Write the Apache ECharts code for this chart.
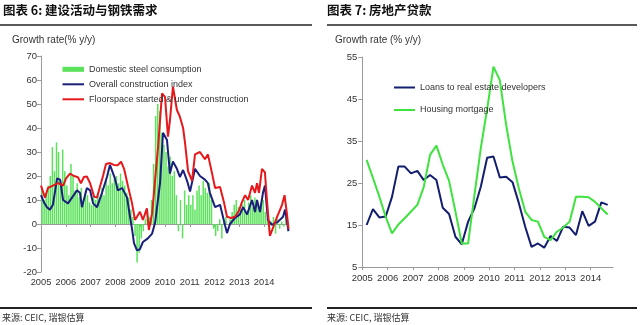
<!DOCTYPE html>
<html><head><meta charset="utf-8">
<script src="https://cdn.jsdelivr.net/npm/echarts@6/dist/echarts.min.js"></script>
<style>html,body{margin:0;padding:0;background:#fff}#c{width:640px;height:325px}</style>
</head><body><div id="c"></div>
<script>
// ---------- Data: chart 6 (left) ----------
const yearTicks = [2005, 2006, 2007, 2008, 2009, 2010, 2011, 2012, 2013, 2014];
const leftYTicks = [-20, -10, 0, 10, 20, 30, 40, 50, 60, 70];
const rightYTicks = [5, 15, 25, 35, 45, 55];

const steelStartYear = 2005;
const steelMonthly = [
  14, 10, 13, 16, 20, 32, 22, 34, 30, 18, 31, 22,
  16, 12, 25, 20, 14, 17, 11, 15, 10, 14, 12, 9,
  8, 12, 10, 13, 11, 15, 12, 19, 16, 21, 17, 19,
  20, 17, 21, 18, 16, 13, 11, 6, 3, -5, -16, -12,
  -6, -3, 2, 5, 3, 10, 25, 45, 50, 47, 38, 33,
  30, 24, 28, 20, 22, 12, -3, 10, -6, 14, 8, 12,
  8, 12, 6, 14, 16, 12, 18, 15, 13, 17, 10, -2,
  -5, -3, 2, -6, 1, 3, 0, 2, 5, 8, 10, 7,
  6, 8, 10, 5, 9, 12, 7, 11, 8, 6, 9, 10,
  5, 2, -3, 1, 3, -4, 2, -2, 1, -1, 3, -3
];

const constructionYears = [2005.00, 2005.12, 2005.24, 2005.36, 2005.48, 2005.65, 2005.77, 2005.89,
  2006.09, 2006.25, 2006.45, 2006.57, 2006.65, 2006.85, 2006.98,
  2007.10, 2007.26, 2007.46, 2007.66, 2007.78, 2007.98,
  2008.10, 2008.27, 2008.47, 2008.59, 2008.67, 2008.75, 2008.87, 2008.99,
  2009.11, 2009.31, 2009.48, 2009.60, 2009.68, 2009.80, 2009.92,
  2010.08, 2010.20, 2010.32, 2010.48, 2010.60, 2010.73, 2010.89,
  2011.01, 2011.21, 2011.41, 2011.61, 2011.73, 2011.81,
  2012.02, 2012.22, 2012.42, 2012.50, 2012.62, 2012.82,
  2013.02, 2013.15, 2013.31, 2013.51, 2013.63, 2013.71, 2013.83, 2013.95,
  2014.03, 2014.15, 2014.31, 2014.56, 2014.76, 2014.84, 2014.98];
const constructionValues = [12, 9, 7, 6, 8, 19, 18.5, 10,
  8.6, 11, 14, 13, 7, 15, 14,
  8.6, 7, 13, 19.6, 24.6, 19,
  14, 15, 11, 3, -2, -8, -11, -10.5,
  -7.5, -6, -4, 0.5, 7, 17, 38,
  35, 21, 26, 23, 19.6, 22.5, 18,
  13.5, 23, 20, 18.5, 17, 13,
  7, 8, -0.5, -3.8, 0, 2.5,
  4, 7, 4, 10, 5, 10, 5, 13,
  16, 1.7, -0.4, 1, 3, 6, -3];

const floorspaceYears = [2005.00, 2005.16, 2005.28, 2005.48, 2005.69, 2005.89,
  2006.01, 2006.17, 2006.33, 2006.49, 2006.61, 2006.73, 2006.85, 2006.98,
  2007.14, 2007.26, 2007.38, 2007.50, 2007.62, 2007.78, 2007.94,
  2008.10, 2008.23, 2008.35, 2008.51, 2008.67, 2008.79, 2008.87, 2008.99,
  2009.11, 2009.27, 2009.35, 2009.48, 2009.60, 2009.72, 2009.88,
  2010.00, 2010.12, 2010.20, 2010.32, 2010.48, 2010.60, 2010.73, 2010.81, 2010.93,
  2011.09, 2011.21, 2011.41, 2011.61, 2011.73, 2011.90,
  2012.02, 2012.22, 2012.38, 2012.50, 2012.66, 2012.82, 2012.98,
  2013.10, 2013.23, 2013.35, 2013.51, 2013.63, 2013.71, 2013.79, 2013.91,
  2014.03, 2014.11, 2014.23, 2014.35, 2014.52, 2014.72, 2014.82, 2014.92, 2014.98];
const floorspaceValues = [16, 11, 15, 16, 17, 16,
  19, 21, 20, 19.5, 17, 19.6, 19.8, 17,
  11.4, 11, 15.6, 20, 25, 25.4, 24.6,
  24.5, 26, 23, 15.6, 8.7, 1.7, 3, 5.1,
  1.7, 6.5, -2.5, 4.4, 18.3, 32, 54.4,
  53, 36.4, 43.3, 57.2, 47.5, 44.7, 40, 33.6, 22,
  18, 29, 30, 27, 29, 21,
  15, 15.4, 9, 3, 2.5, 3, 5.5,
  9, 12, 10, 16, 13, 17, 13, 23,
  21.5, 10, -5, -1.7, 3, 8, 12, 4, -2];

// ---------- Data: chart 7 (right) ----------
const loanYears = [2005.17, 2005.42, 2005.67, 2005.92, 2006.17, 2006.42, 2006.67, 2006.92,
  2007.17, 2007.42, 2007.67, 2007.92, 2008.17, 2008.42, 2008.67, 2008.92,
  2009.17, 2009.42, 2009.67, 2009.92, 2010.17, 2010.42, 2010.67, 2010.92,
  2011.17, 2011.42, 2011.67, 2011.92, 2012.17, 2012.42, 2012.67, 2012.92,
  2013.17, 2013.42, 2013.67, 2013.92, 2014.17, 2014.42, 2014.67];
const developerLoans = [15.0, 18.8, 16.8, 17.0, 21.7, 28.9, 28.9, 27.3,
  27.9, 25.7, 26.9, 25.7, 19.1, 17.6, 12.2, 10.4,
  15.8, 19.0, 24.1, 31.0, 31.3, 26.3, 26.5, 25.2,
  20.2, 14.6, 9.8, 10.6, 9.6, 12.4, 11.2, 14.6,
  14.4, 12.6, 18.3, 14.8, 15.8, 20.4, 19.8];
const housingMortgage = [30.5, 26.2, 21.8, 17.0, 13.0, 15.1, 16.6, 18.2,
  19.8, 24.0, 31.7, 33.9, 29.4, 25.5, 18.2, 10.6,
  10.6, 22.1, 33.3, 42.6, 52.7, 49.5, 38.8, 30.1,
  23.7, 18.2, 16.2, 15.8, 12.2, 11.4, 13.4, 14.4,
  15.8, 21.7, 21.7, 21.6, 20.5, 19.0, 17.5];

// ---------- build ----------
const zip = (xs, ys) => xs.map((x, i) => [x, ys[i]]);
const steelData = steelMonthly.map((v, i) => [steelStartYear + (i + 0.5) / 12, v]);

const axisGray = '#9a9a9a';
const labelFont = { fontFamily: 'Liberation Sans, Arial, sans-serif', color: '#333' };
const yearFmt = v => String(Math.round(v));

const chart = echarts.init(document.getElementById('c'), null, { renderer: 'canvas' });
chart.setOption({
  animation: false,
  backgroundColor: '#fff',
  title: [
    { text: '图表 6: 建设活动与钢铁需求', left: 3, top: 4, padding: 0,
      textStyle: { fontFamily: 'Noto Sans CJK SC', fontSize: 12.5, fontWeight: 'bold', color: '#111' } },
    { text: '图表 7: 房地产贷款', left: 327, top: 4, padding: 0,
      textStyle: { fontFamily: 'Noto Sans CJK SC', fontSize: 12.5, fontWeight: 'bold', color: '#111' } },
    { text: 'Growth rate(% y/y)', left: 12, top: 35, padding: 0,
      textStyle: Object.assign({ fontSize: 10, fontWeight: 'normal' }, labelFont) },
    { text: 'Growth rate (% y/y)', left: 335, top: 35, padding: 0,
      textStyle: Object.assign({ fontSize: 10, fontWeight: 'normal' }, labelFont) },
    { text: '来源: CEIC, 瑞银估算', left: 2, top: 313, padding: 0,
      textStyle: { fontFamily: 'Noto Sans CJK SC', fontSize: 9, fontWeight: 'normal', color: '#333' } },
    { text: '来源: CEIC, 瑞银估算', left: 327, top: 313, padding: 0,
      textStyle: { fontFamily: 'Noto Sans CJK SC', fontSize: 9, fontWeight: 'normal', color: '#333' } }
  ],
  graphic: [
    { type: 'line', shape: { x1: 0, y1: 25, x2: 312, y2: 25 }, style: { stroke: '#222', lineWidth: 1.5 } },
    { type: 'line', shape: { x1: 327, y1: 25, x2: 637, y2: 25 }, style: { stroke: '#222', lineWidth: 1.5 } },
    { type: 'line', shape: { x1: 0, y1: 308, x2: 312, y2: 308 }, style: { stroke: '#222', lineWidth: 2 } },
    { type: 'line', shape: { x1: 327, y1: 308, x2: 637, y2: 308 }, style: { stroke: '#222', lineWidth: 2 } }
  ],
  legend: [
    { orient: 'vertical', left: 61.5, top: 63.3, padding: 0, itemGap: 3, itemWidth: 21.5, itemHeight: 5,
      selectedMode: false,
      textStyle: Object.assign({ fontSize: 9, lineHeight: 12 }, labelFont),
      data: [
        { name: 'Domestic steel consumption', icon: 'rect' },
        { name: 'Overall construction index', itemStyle: { opacity: 0 } },
        { name: 'Floorspace started & under construction', itemStyle: { opacity: 0 } }
      ] },
    { orient: 'vertical', left: 393, top: 81.5, padding: 0, itemGap: 10.5, itemWidth: 21, itemHeight: 5,
      selectedMode: false,
      textStyle: Object.assign({ fontSize: 9, lineHeight: 12 }, labelFont),
      data: [
        { name: 'Loans to real estate developers', itemStyle: { opacity: 0 } },
        { name: 'Housing mortgage', itemStyle: { opacity: 0 } }
      ] }
  ],
  grid: [
    { left: 41, top: 56, width: 247.5, height: 216 },
    { left: 362.3, top: 57, width: 250.7, height: 210 }
  ],
  xAxis: [
    { gridIndex: 0, type: 'value', min: 2005, max: 2014.98,
      axisLine: { onZero: true, lineStyle: { color: axisGray, width: 1 } },
      axisTick: { show: true, length: 3, customValues: yearTicks, lineStyle: { color: axisGray } },
      axisLabel: { show: false }, splitLine: { show: false } },
    { gridIndex: 0, type: 'value', min: 2005, max: 2014.98, position: 'bottom',
      axisLine: { show: false, onZero: false }, axisTick: { show: false },
      axisLabel: Object.assign({ fontSize: 9.3, margin: 6, customValues: yearTicks, formatter: yearFmt }, labelFont),
      splitLine: { show: false } },
    { gridIndex: 1, type: 'value', min: 2005, max: 2014.88,
      axisLine: { onZero: false, lineStyle: { color: axisGray, width: 1 } },
      axisTick: { show: true, length: 3, customValues: yearTicks, lineStyle: { color: axisGray } },
      axisLabel: Object.assign({ fontSize: 9.5, margin: 6, customValues: yearTicks, formatter: yearFmt }, labelFont),
      splitLine: { show: false } }
  ],
  yAxis: [
    { gridIndex: 0, type: 'value', min: -20, max: 70,
      axisLine: { show: true, lineStyle: { color: axisGray, width: 1 } },
      axisTick: { show: true, length: 4, customValues: leftYTicks, lineStyle: { color: axisGray } },
      axisLabel: Object.assign({ fontSize: 9.5, margin: 4, customValues: leftYTicks }, labelFont),
      splitLine: { show: false } },
    { gridIndex: 1, type: 'value', min: 5, max: 55,
      axisLine: { show: true, lineStyle: { color: axisGray, width: 1 } },
      axisTick: { show: true, length: 4, customValues: rightYTicks, lineStyle: { color: axisGray } },
      axisLabel: Object.assign({ fontSize: 9.5, margin: 5, customValues: rightYTicks }, labelFont),
      splitLine: { show: false } }
  ],
  series: [
    { name: 'Domestic steel consumption', type: 'bar', xAxisIndex: 0, yAxisIndex: 0,
      data: steelData, barWidth: 1.5, itemStyle: { color: '#5ae25a' }, silent: true },
    { name: 'Overall construction index', type: 'line', xAxisIndex: 0, yAxisIndex: 0,
      data: zip(constructionYears, constructionValues), symbol: 'none',
      lineStyle: { color: '#1a1f7c', width: 2 }, itemStyle: { color: '#1a1f7c' }, silent: true },
    { name: 'Floorspace started & under construction', type: 'line', xAxisIndex: 0, yAxisIndex: 0,
      data: zip(floorspaceYears, floorspaceValues), symbol: 'none',
      lineStyle: { color: '#e5181c', width: 2 }, itemStyle: { color: '#e5181c' }, silent: true },
    { name: 'Loans to real estate developers', type: 'line', xAxisIndex: 2, yAxisIndex: 1,
      data: zip(loanYears, developerLoans), symbol: 'none',
      lineStyle: { color: '#141e6e', width: 2 }, itemStyle: { color: '#141e6e' }, silent: true },
    { name: 'Housing mortgage', type: 'line', xAxisIndex: 2, yAxisIndex: 1,
      data: zip(loanYears, housingMortgage), symbol: 'none',
      lineStyle: { color: '#3fe23f', width: 2 }, itemStyle: { color: '#3fe23f' }, silent: true }
  ]
});
</script>
</body></html>
